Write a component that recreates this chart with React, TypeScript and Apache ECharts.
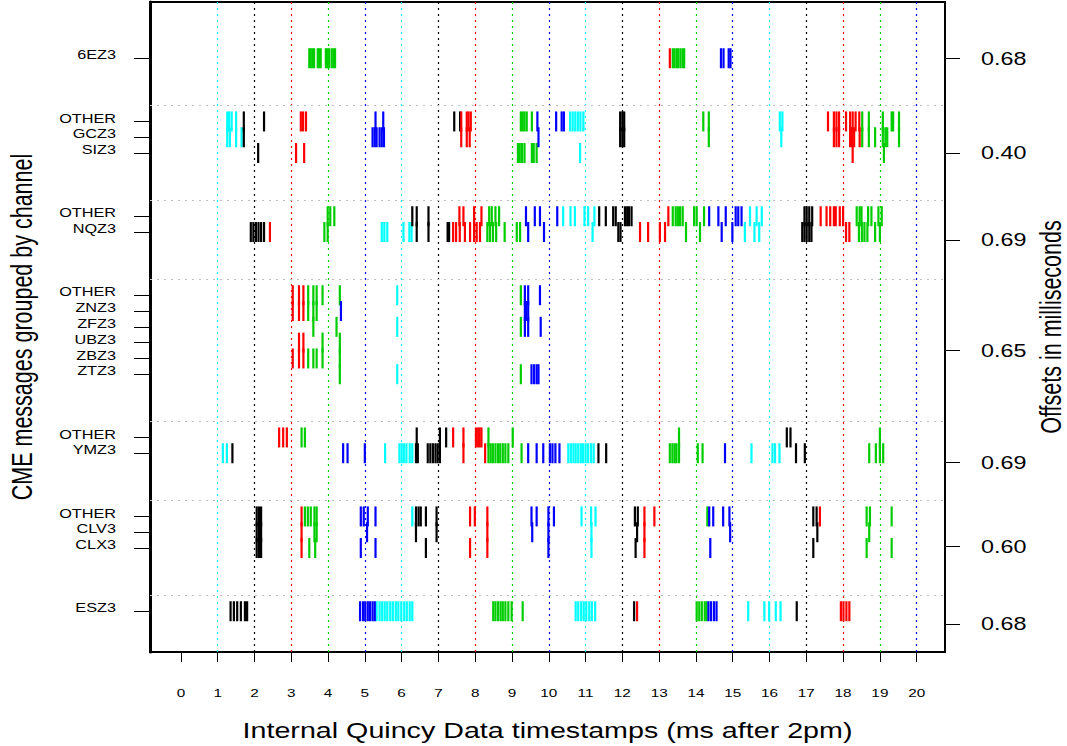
import React, { useEffect, useRef } from 'react';
import * as echarts from 'echarts';

type Marks = { k?: number[]; r?: number[]; g?: number[]; b?: number[]; c?: number[] };

// channel groups (top to bottom)
const GROUPS: string[][] = [
  ['6EZ3'],
  ['OTHER', 'GCZ3', 'SIZ3'],
  ['OTHER', 'NQZ3'],
  ['OTHER', 'ZNZ3', 'ZFZ3', 'UBZ3', 'ZBZ3', 'ZTZ3'],
  ['OTHER', 'YMZ3'],
  ['OTHER', 'CLV3', 'CLX3'],
  ['ESZ3'],
];
const GROUP_GAP = 3;
const OFFSET_LABELS = ['0.68', '0.40', '0.69', '0.65', '0.69', '0.60', '0.68'];
const OFFSET_AT = [0, 6, 11.5, 18.5, 25.6, 30.9, 35.8];
const X_TICKS = [0, 1, 2, 3, 4, 5, 6, 7, 8, 9, 10, 11, 12, 13, 14, 15, 16, 17, 18, 19, 20];
const GUIDES = [1, 2, 3, 4, 5, 6, 7, 8, 9, 10, 11, 12, 13, 14, 15, 16, 17, 18, 19, 20];
const GUIDE_CYCLE: (keyof Marks)[] = ['c', 'k', 'r', 'g', 'b'];
const COLORS: Record<string, string> = { k: '#000000', r: '#FF0000', g: '#00CD00', b: '#0000FF', c: '#00FFFF' };

// message timestamps (ms after 2pm) per row, by colour
const M_6EZ3: Marks = {
  g: [3.49, 3.53, 3.58, 3.62, 3.72, 3.76, 3.8, 3.94, 3.98, 4.03, 4.1, 4.15, 4.19, 13.37, 13.42, 13.48, 13.52, 13.58, 13.64, 13.68],
  r: [13.29],
  b: [14.68, 14.75, 14.89, 14.94],
};
const M_OTHER_GC: Marks = {
  c: [1.26, 1.31, 1.38, 1.5, 10.58, 10.65, 10.72, 10.79, 10.86, 10.94, 16.28, 16.35],
  k: [1.71, 2.26, 7.43, 7.59, 11.94, 12.0, 12.05],
  r: [3.26, 3.32, 3.4, 7.62, 7.77, 7.82, 7.88, 17.59, 17.75, 17.82, 17.89, 18.08, 18.19, 18.26, 18.34, 18.44],
  b: [5.29, 5.5, 9.69, 10.2, 10.35, 10.41],
  g: [9.24, 9.29, 9.34, 9.4, 9.54, 14.2, 14.35, 18.52, 18.7, 19.08, 19.32, 19.36, 19.52],
};
const M_GCZ3: Marks = {
  c: [1.26, 1.33, 1.5, 1.65, 16.32],
  k: [1.71, 11.94, 12.0, 12.05],
  b: [5.21, 5.27, 5.32, 5.4, 5.46, 5.52, 9.72],
  r: [7.62, 7.77, 7.85, 17.75, 17.82, 17.89, 18.19, 18.24, 18.3, 18.45],
  g: [14.35, 18.52, 18.7, 18.87, 19.08, 19.15, 19.2, 19.52],
};
const M_SIZ3: Marks = {
  k: [2.1],
  r: [3.13, 3.35, 18.26],
  g: [9.16, 9.21, 9.27, 9.34, 9.54, 9.59, 9.67, 19.11],
  c: [10.85],
};
const M_OTHER_NQ: Marks = {
  g: [3.99, 4.06, 4.17, 8.38, 8.45, 8.55, 8.65, 13.37, 13.45, 13.51, 13.57, 13.64, 13.95, 14.02, 14.22, 18.37, 18.45, 18.5, 18.68, 18.77, 18.96, 19.05],
  k: [6.29, 6.41, 6.73, 11.37, 11.55, 11.75, 11.82, 12.07, 12.13, 12.18, 12.25, 16.95, 17.01, 17.08, 17.16],
  r: [7.57, 7.68, 7.97, 8.17, 13.25, 17.39, 17.55, 17.65, 17.75, 17.8, 17.91, 18.0],
  b: [9.38, 9.62, 9.76, 10.23, 14.36, 14.61, 14.81, 15.08, 15.15, 15.24],
  c: [10.39, 10.59, 10.71, 10.97, 11.07, 11.24, 15.47, 15.65, 15.79],
};
const M_NQZ3: Marks = {
  k: [1.9, 1.97, 2.04, 2.11, 2.18, 2.26, 6.41, 6.73, 7.25, 7.29, 11.89, 11.95, 16.89, 16.95, 17.01, 17.08, 17.14],
  r: [2.42, 7.4, 7.48, 7.58, 7.72, 7.86, 7.97, 8.04, 8.13, 12.48, 12.7, 13.02, 13.16, 18.08, 18.17],
  g: [3.9, 3.99, 8.33, 8.4, 8.48, 8.57, 8.8, 9.13, 9.22, 13.73, 14.11, 18.43, 18.51, 18.58, 18.66, 18.87, 19.0],
  c: [5.46, 5.53, 5.61, 6.05, 6.21, 6.27, 11.19, 15.33, 15.59, 15.72],
  b: [9.44, 9.87, 14.7, 14.99],
};
const M_OTHER_ZN: Marks = {
  r: [3.04, 3.21, 3.33],
  g: [3.46, 3.6, 3.69, 3.85, 4.32, 9.24],
  c: [5.88],
  b: [9.35, 9.44, 9.76],
};
const M_ZNZ3: Marks = { r: [3.04, 3.21, 3.33], g: [3.46, 3.6, 3.69], b: [4.35, 9.35, 9.38, 9.44] };
const M_ZFZ3: Marks = { g: [3.6, 4.23, 9.24], c: [5.88], b: [9.35, 9.44, 9.78] };
const M_UBZ3: Marks = { r: [3.21, 3.33], g: [3.85, 4.32] };
const M_ZBZ3: Marks = { r: [3.04, 3.21, 3.33], g: [3.46, 3.6, 3.69, 3.85, 4.32] };
const M_ZTZ3: Marks = { g: [4.32, 9.24], c: [5.88], b: [9.53, 9.6, 9.67, 9.72] };
const M_OTHER_YM: Marks = {
  r: [2.67, 2.78, 2.88, 7.4, 7.68, 8.02, 8.08, 8.12, 8.17],
  g: [3.28, 3.37, 8.36, 9.02, 13.54, 19.0],
  k: [6.41, 7.04, 7.21, 16.47, 16.57],
};
const M_YMZ3: Marks = {
  c: [1.14, 1.25, 5.55, 5.94, 6.0, 6.06, 6.13, 6.22, 6.29, 10.53, 10.6, 10.67, 10.73, 10.8, 10.87, 10.93, 11.0, 11.07, 11.15, 11.22, 15.51, 16.08, 16.15, 16.27],
  k: [1.4, 6.39, 6.44, 6.71, 6.78, 6.85, 6.92, 6.98, 7.04, 11.35, 11.56, 16.72, 16.96],
  b: [4.41, 4.53, 5.0, 9.44, 9.67, 9.85, 10.03, 10.1, 10.18, 10.29, 14.79],
  r: [7.68, 8.27],
  g: [8.36, 8.42, 8.48, 8.55, 8.62, 8.68, 8.75, 8.82, 8.9, 9.26, 13.29, 13.36, 13.42, 13.47, 13.54, 14.05, 14.18, 18.71, 18.89, 19.0, 19.09],
};
const M_OTHER_CL: Marks = {
  k: [2.06, 2.12, 2.18, 6.39, 6.46, 6.52, 6.66, 6.95, 12.34, 12.42, 17.19, 17.28],
  r: [3.28, 7.86, 7.99, 8.33, 12.6, 12.87, 17.37],
  g: [3.37, 3.45, 3.53, 3.63, 3.69, 14.31, 18.64, 18.73, 19.32],
  b: [4.89, 4.97, 5.08, 5.29, 9.53, 9.67, 9.99, 10.14, 14.36, 14.47, 14.74, 14.91],
  c: [6.29, 10.89, 11.15, 11.27],
};
const M_CLV3: Marks = {
  k: [2.06, 2.12, 2.18, 6.39, 6.95, 12.4, 17.3],
  r: [3.28, 8.33, 12.6],
  g: [3.63, 3.69, 18.71],
  b: [5.06, 9.55, 9.99, 14.93],
  c: [11.16],
};
const M_CLX3: Marks = {
  k: [2.06, 2.12, 2.18, 6.66, 12.36, 17.19],
  r: [3.28, 7.86, 8.33, 12.6],
  g: [3.49, 3.65, 18.64, 19.32],
  b: [4.89, 5.29, 9.99, 14.39],
  c: [11.16],
};
const M_ESZ3: Marks = {
  k: [1.35, 1.44, 1.53, 1.63, 1.74, 1.8, 12.32, 16.74],
  b: [4.87, 4.95, 5.01, 5.08, 5.14, 5.21, 5.27, 14.34, 14.41, 14.49, 14.56],
  c: [5.32, 5.4, 5.47, 5.54, 5.61, 5.69, 5.76, 5.84, 5.91, 5.99, 6.07, 6.14, 6.22, 6.29, 10.73, 10.8, 10.88, 10.95, 11.02, 11.1, 11.17, 11.26, 15.42, 15.86, 15.99, 16.17, 16.3],
  g: [8.49, 8.55, 8.62, 8.69, 8.75, 8.82, 8.9, 8.99, 9.29, 14.02, 14.09, 14.16, 14.24, 14.29],
  r: [12.4, 17.94, 18.01, 18.09, 18.17],
};

const ROW_MARKS: Marks[] = [
  M_6EZ3,
  M_OTHER_GC, M_GCZ3, M_SIZ3,
  M_OTHER_NQ, M_NQZ3,
  M_OTHER_ZN, M_ZNZ3, M_ZFZ3, M_UBZ3, M_ZBZ3, M_ZTZ3,
  M_OTHER_YM, M_YMZ3,
  M_OTHER_CL, M_CLV3, M_CLX3,
  M_ESZ3,
];

const Y_MIN = -3.56;
const Y_MAX = 37.58;
const X_MIN = -0.84;
const X_MAX = 20.77;
const STRETCH = 1.333;
const FONT = '"Liberation Sans", Arial, Helvetica, sans-serif';

export default function App() {
  const ref = useRef<HTMLDivElement>(null);

  useEffect(() => {
    if (!ref.current) return;
    const chart = echarts.init(ref.current, null, { renderer: 'svg' });

    // row layout
    const rowNames: string[] = [];
    const rowPos: number[] = [];
    const separators: number[] = [];
    let p = 0;
    GROUPS.forEach((g, gi) => {
      if (gi > 0) separators.push(p - 1);
      g.forEach((name, i) => {
        rowNames.push(name);
        rowPos.push(p + i);
      });
      p += g.length + GROUP_GAP;
    });

    const keys: (keyof Marks)[] = ['c', 'k', 'r', 'g', 'b'];
    const markSeries = keys.map((key) => ({
      type: 'scatter',
      name: key,
      z: 3,
      symbol: 'rect',
      symbolSize: [2.2, 20],
      itemStyle: { color: COLORS[key], opacity: 1 },
      silent: true,
      data: ROW_MARKS.flatMap((m, i) => (m[key] || []).map((t) => [t, rowPos[i]])),
    }));

    const guideSeries = {
      type: 'scatter',
      z: 1,
      symbolSize: 0,
      silent: true,
      data: [[X_MIN, Y_MIN]],
      markLine: {
        silent: true,
        symbol: ['none', 'none'],
        label: { show: false },
        animation: false,
        data: [
          ...GUIDES.map((v, i) => ({
            xAxis: v,
            lineStyle: { color: COLORS[GUIDE_CYCLE[i % 5]], type: [2, 4], width: 1.2 },
          })),
          ...separators.map((v) => ({
            yAxis: v,
            lineStyle: { color: '#BEBEBE', type: [2, 5], width: 1.2 },
          })),
        ],
      },
    };

    const option: any = {
      animation: false,
      grid: { left: 150, right: 122, top: 2, bottom: 94, show: true, borderColor: '#000', borderWidth: 2 },
      xAxis: {
        type: 'value',
        min: X_MIN,
        max: X_MAX,
        axisLine: { show: false, onZero: false },
        axisTick: { show: true, customValues: X_TICKS, length: 10, lineStyle: { color: '#000', width: 1 } },
        axisLabel: { show: false },
        splitLine: { show: false },
      },
      yAxis: [
        {
          type: 'value',
          inverse: true,
          min: Y_MIN,
          max: Y_MAX,
          position: 'left',
          axisLine: { show: true, onZero: false, lineStyle: { color: '#000', width: 3 } },
          axisTick: { show: true, customValues: rowPos, length: 16, lineStyle: { color: '#000', width: 1 } },
          axisLabel: { show: false },
          splitLine: { show: false },
        },
        {
          type: 'value',
          inverse: true,
          min: Y_MIN,
          max: Y_MAX,
          position: 'right',
          axisLine: { show: false, onZero: false },
          axisTick: { show: true, customValues: OFFSET_AT, length: 15, lineStyle: { color: '#000', width: 1 } },
          axisLabel: { show: false },
          splitLine: { show: false },
        },
      ],
      series: [guideSeries, ...markSeries],
    };
    chart.setOption(option);

    const xp = (v: number) => chart.convertToPixel({ xAxisIndex: 0 }, v) as number;
    const yp = (v: number) => chart.convertToPixel({ yAxisIndex: 0 }, v) as number;
    const left = xp(X_MIN);
    const right = xp(X_MAX);
    const bottom = yp(Y_MAX);
    const top = yp(Y_MIN);

    const txt = (text: string, x: number, y: number, fontSize: number, align: string, extra: any = {}) => ({
      type: 'text',
      x,
      y,
      scaleX: STRETCH,
      silent: true,
      ...extra,
      style: {
        text,
        fontSize,
        fontFamily: FONT,
        fill: '#000',
        align,
        verticalAlign: 'middle',
        textAlign: align,
        textVerticalAlign: 'middle',
      },
    });

    const graphics: any[] = [];
    rowNames.forEach((name, i) => graphics.push(txt(name, left - 34, yp(rowPos[i]) - 3, 12.2, 'right')));
    X_TICKS.forEach((v) => graphics.push(txt(String(v), xp(v), bottom + 41, 11.5, 'center')));
    OFFSET_LABELS.forEach((lab, i) => graphics.push(txt(lab, right + 36, yp(OFFSET_AT[i]), 17.5, 'left')));
    graphics.push(txt('Internal Quincy Data timestamps (ms after 2pm)', (left + right) / 2, 730, 21.5, 'center'));
    graphics.push(
      txt('CME messages grouped by channel', 22, (top + bottom) / 2, 21.5, 'center', {
        rotation: Math.PI / 2,
        scaleX: 1,
        scaleY: STRETCH,
      })
    );
    graphics.push(
      txt('Offsets in milliseconds', 1051, (top + bottom) / 2, 21.5, 'center', {
        rotation: Math.PI / 2,
        scaleX: 1,
        scaleY: STRETCH,
      })
    );
    chart.setOption({ graphic: graphics });

    return () => chart.dispose();
  }, []);

  return (
    <div
      ref={ref}
      style={{ position: 'fixed', left: 0, top: 0, width: 1067, height: 746, background: '#fff' }}
    />
  );
}
